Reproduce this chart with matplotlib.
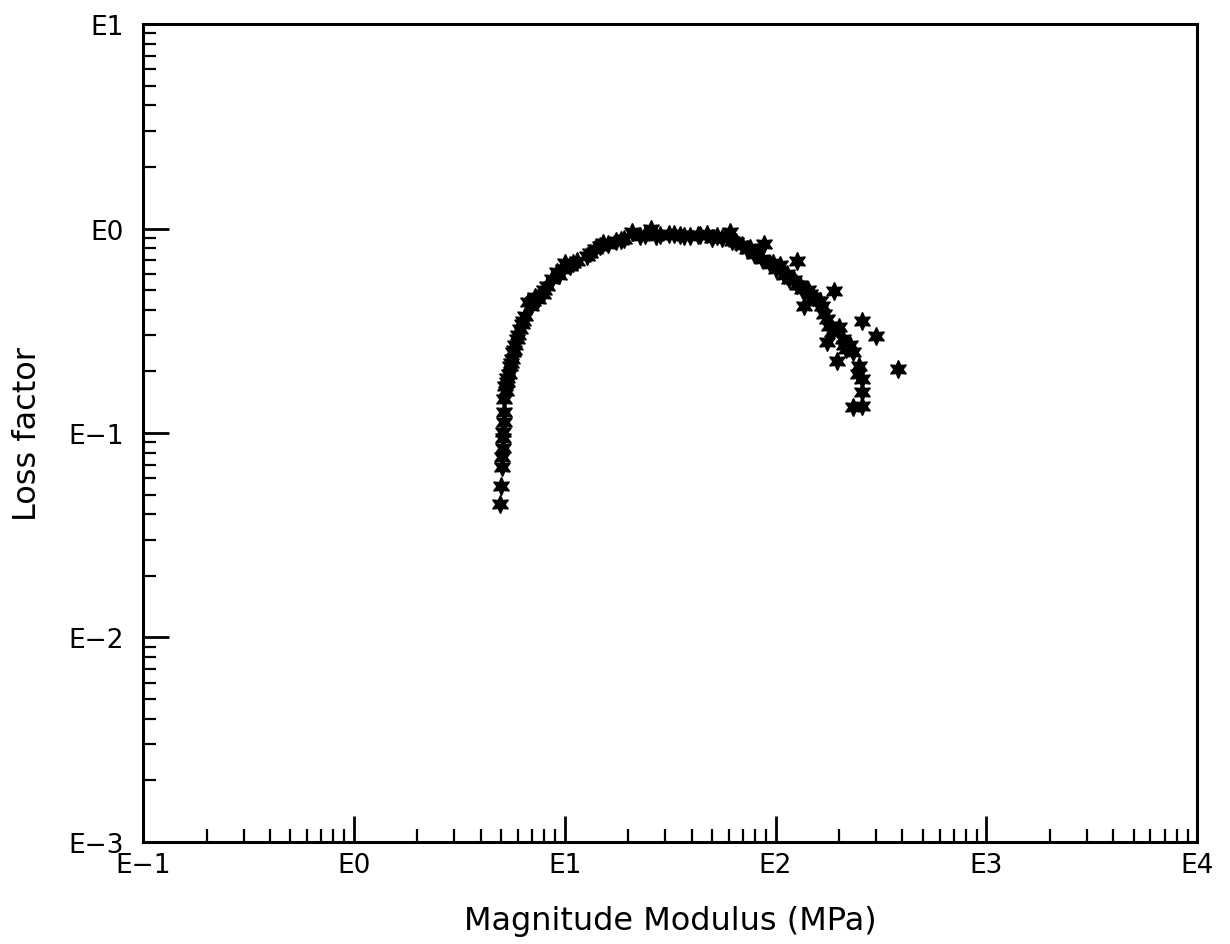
import matplotlib.pyplot as plt
import numpy as np
from matplotlib.ticker import LogLocator, FuncFormatter, NullFormatter

# magnitude modulus (MPa) and loss factor
modulus = [4.92, 4.97, 5.02, 5.02, 5.08, 5.08, 5.08, 5.14, 5.14, 5.14,
           5.25, 5.31, 5.43, 5.49, 5.61, 5.67, 5.80, 5.93, 6.12, 6.32,
           6.46, 6.68, 7.05, 7.45, 7.86, 8.22, 8.68, 9.16, 9.79, 10.6,
           11.5, 12.7, 13.9, 14.7, 16.0, 17.6, 19.2, 20.8, 22.7, 25.8,
           28.2, 31.4, 35.1, 39.1, 42.7, 47.1, 52.5, 60.5, 65.3, 72.9,
           79.4, 88.6, 86.7, 93.7, 101, 110, 116, 127, 126, 134,
           137, 150, 158, 167, 190, 175, 180, 186, 175, 208,
           195, 217, 232, 250, 258, 258, 232, 258, 258, 301,
           379, 5.20, 5.55, 6.00, 7.20, 10.0, 15.2, 24.0, 33.0, 44.0,
           56.0, 69.0, 83.0, 105, 122, 142, 163, 200, 225, 245,
           5.35, 5.75, 6.25, 6.90, 8.00, 9.40, 11.0, 13.2, 18.4, 27.0,
           37.0, 50.0, 62.0, 76.0, 97.0, 113, 131, 146, 170, 212]
loss = [0.045, 0.055, 0.068, 0.076, 0.084, 0.094, 0.101, 0.113, 0.127, 0.147,
        0.160, 0.177, 0.194, 0.213, 0.230, 0.249, 0.269, 0.288, 0.323, 0.353,
        0.373, 0.438, 0.442, 0.452, 0.478, 0.524, 0.567, 0.612, 0.634, 0.656,
        0.694, 0.734, 0.795, 0.821, 0.840, 0.869, 0.889, 0.962, 0.919, 0.995,
        0.929, 0.940, 0.929, 0.919, 0.929, 0.940, 0.919, 0.962, 0.859, 0.795,
        0.750, 0.840, 0.710, 0.670, 0.634, 0.593, 0.567, 0.694, 0.530, 0.506,
        0.418, 0.462, 0.442, 0.418, 0.494, 0.361, 0.333, 0.312, 0.279, 0.288,
        0.225, 0.258, 0.249, 0.213, 0.184, 0.159, 0.134, 0.135, 0.353, 0.298,
        0.206, 0.170, 0.220, 0.300, 0.460, 0.680, 0.850, 0.930, 0.935, 0.925,
        0.900, 0.830, 0.760, 0.660, 0.560, 0.500, 0.440, 0.330, 0.270, 0.195,
        0.185, 0.255, 0.340, 0.420, 0.500, 0.590, 0.680, 0.760, 0.880, 0.920,
        0.915, 0.900, 0.870, 0.800, 0.680, 0.600, 0.530, 0.480, 0.380, 0.270]

x_ticks = [1e-1, 1e0, 1e1, 1e2, 1e3, 1e4]
y_ticks = [1e-3, 1e-2, 1e-1, 1e0, 1e1]


def e_label(v, pos):
    return 'E' + str(int(round(np.log10(v)))).replace('-', '\u2212')


fig = plt.figure(figsize=(12.3, 9.45), dpi=100)
ax = fig.add_axes([0.1163, 0.108, 0.857, 0.8655])

ax.plot(modulus, loss, linestyle='none', marker=(6, 1, 0), markersize=13,
        color='black', markeredgewidth=1.0)

ax.set_xscale('log')
ax.set_yscale('log')
ax.set_xlim(1e-1, 1e4)
ax.set_ylim(1e-3, 1e1)

ax.set_xticks(x_ticks)
ax.set_yticks(y_ticks)
ax.xaxis.set_minor_locator(LogLocator(base=10, subs=np.arange(2, 10)))
ax.yaxis.set_minor_locator(LogLocator(base=10, subs=np.arange(2, 10)))
ax.xaxis.set_major_formatter(FuncFormatter(e_label))
ax.yaxis.set_major_formatter(FuncFormatter(e_label))
ax.xaxis.set_minor_formatter(NullFormatter())
ax.yaxis.set_minor_formatter(NullFormatter())

ax.tick_params(which='major', direction='in', length=19, width=2.0,
               labelsize=19, top=False, right=False)
ax.tick_params(which='minor', direction='in', length=9.5, width=1.6,
               top=False, right=False)
ax.tick_params(axis='x', which='major', pad=7)
ax.tick_params(axis='y', which='major', pad=14)

for s in ax.spines.values():
    s.set_linewidth(2.2)

ax.set_xlabel('Magnitude Modulus (MPa)', fontsize=23, labelpad=20)
ax.set_ylabel('Loss factor', fontsize=23, labelpad=18)

fig.savefig('out.png', dpi=100)
